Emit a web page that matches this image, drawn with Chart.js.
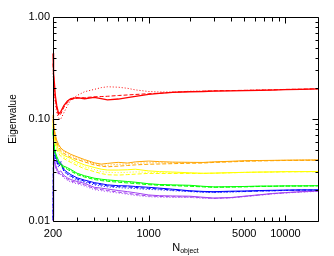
<!DOCTYPE html>
<html>
<head>
<meta charset="utf-8">
<script src="https://cdn.jsdelivr.net/npm/chart.js@4.4.1/dist/chart.umd.min.js"></script>
<style>
html,body{margin:0;padding:0;background:#fff;}
canvas{display:block;}
</style>
</head>
<body>
<canvas id="c" width="334" height="256"></canvas>
<script>
// ---- data ----
const nObject = [200, 201, 203, 205, 208, 213, 220, 228, 240, 255, 270, 300, 340, 400, 450, 500, 600, 700, 800, 1000, 1200, 1500, 2000, 2500, 3000, 4000, 5000, 6500, 8000, 10000, 13000, 17300];

const redSolid   = [0.44, 0.36, 0.28, 0.22, 0.17, 0.135, 0.112, 0.118, 0.135, 0.15, 0.158, 0.162, 0.158, 0.163, 0.158, 0.154, 0.157, 0.162, 0.167, 0.174, 0.178, 0.182, 0.185, 0.186, 0.188, 0.189, 0.19, 0.191, 0.192, 0.194, 0.195, 0.197];
const redDashed  = [0.35, 0.3, 0.24, 0.19, 0.155, 0.125, 0.108, 0.112, 0.13, 0.145, 0.155, 0.16, 0.162, 0.165, 0.166, 0.167, 0.17, 0.172, 0.174, 0.177, 0.179, 0.183, 0.186, 0.187, 0.189, 0.19, 0.191, 0.192, 0.193, 0.195, 0.196, 0.198];
const redDotted  = [0.28, 0.25, 0.21, 0.17, 0.14, 0.115, 0.102, 0.1, 0.115, 0.135, 0.155, 0.17, 0.185, 0.195, 0.203, 0.207, 0.205, 0.2, 0.193, 0.186, 0.184, 0.184, 0.187, 0.188, 0.189, 0.19, 0.191, 0.193, 0.194, 0.195, 0.196, 0.197];

const orangeSolid  = [0.11, 0.1, 0.088, 0.078, 0.07, 0.062, 0.056, 0.052, 0.049, 0.047, 0.045, 0.0426, 0.04, 0.0372, 0.0361, 0.0367, 0.0376, 0.037, 0.038, 0.0387, 0.0382, 0.0378, 0.0376, 0.0375, 0.038, 0.0385, 0.039, 0.0392, 0.0393, 0.0395, 0.0396, 0.0397];
const orangeDashed = [0.1, 0.09, 0.08, 0.072, 0.065, 0.058, 0.053, 0.049, 0.046, 0.044, 0.042, 0.04, 0.038, 0.0355, 0.0345, 0.034, 0.0345, 0.035, 0.0355, 0.036, 0.0362, 0.0365, 0.0368, 0.037, 0.0375, 0.038, 0.0385, 0.0388, 0.039, 0.0392, 0.0393, 0.0394];
const orangeDotted = [0.105, 0.095, 0.084, 0.075, 0.067, 0.06, 0.055, 0.051, 0.048, 0.046, 0.0435, 0.041, 0.039, 0.0365, 0.0352, 0.0352, 0.036, 0.0362, 0.0368, 0.0372, 0.0372, 0.0372, 0.0372, 0.0374, 0.0378, 0.0383, 0.0387, 0.039, 0.0392, 0.0393, 0.0395, 0.0396];

const yellowSolid  = [0.095, 0.085, 0.075, 0.066, 0.06, 0.055, 0.05, 0.047, 0.044, 0.0425, 0.041, 0.038, 0.0355, 0.0335, 0.0322, 0.0316, 0.0316, 0.0318, 0.0322, 0.031, 0.0305, 0.0302, 0.0297, 0.0294, 0.0295, 0.0298, 0.03, 0.0302, 0.0303, 0.0305, 0.0305, 0.0306];
const yellowDashed = [0.088, 0.078, 0.07, 0.062, 0.056, 0.051, 0.046, 0.043, 0.041, 0.039, 0.0375, 0.035, 0.0325, 0.0305, 0.0292, 0.0284, 0.0282, 0.0285, 0.0288, 0.0293, 0.0292, 0.0292, 0.0292, 0.0292, 0.0294, 0.0297, 0.0299, 0.0301, 0.0302, 0.0303, 0.0304, 0.0304];
const yellowDotted = [0.09, 0.082, 0.072, 0.064, 0.058, 0.053, 0.048, 0.045, 0.0425, 0.0405, 0.039, 0.0365, 0.034, 0.032, 0.0305, 0.03, 0.0298, 0.03, 0.0303, 0.03, 0.0298, 0.0296, 0.0294, 0.0293, 0.0294, 0.0297, 0.03, 0.0301, 0.0302, 0.0304, 0.0304, 0.0305];

const greenSolid  = [0.08, 0.07, 0.06, 0.052, 0.047, 0.043, 0.039, 0.036, 0.0345, 0.0333, 0.032, 0.0294, 0.0278, 0.0263, 0.0257, 0.0253, 0.0248, 0.0244, 0.024, 0.0232, 0.0228, 0.0226, 0.0224, 0.0219, 0.0216, 0.0217, 0.0218, 0.022, 0.022, 0.0221, 0.0221, 0.0222];
const greenDashed = [0.075, 0.066, 0.057, 0.05, 0.045, 0.041, 0.0375, 0.0348, 0.0333, 0.032, 0.0308, 0.0285, 0.027, 0.0255, 0.0249, 0.0245, 0.024, 0.0236, 0.0233, 0.0227, 0.0224, 0.0222, 0.0219, 0.0216, 0.0214, 0.0215, 0.0216, 0.0218, 0.0219, 0.022, 0.022, 0.0221];
const greenDotted = [0.077, 0.068, 0.058, 0.051, 0.046, 0.042, 0.038, 0.0354, 0.0338, 0.0326, 0.0314, 0.029, 0.0274, 0.0259, 0.0253, 0.0249, 0.0244, 0.024, 0.0237, 0.023, 0.0226, 0.0224, 0.0221, 0.0217, 0.0215, 0.0216, 0.0217, 0.0219, 0.0219, 0.022, 0.0221, 0.0221];

const blueSolid  = [0.011, 0.04, 0.058, 0.05, 0.044, 0.04, 0.036, 0.037, 0.032, 0.03, 0.0285, 0.0265, 0.0252, 0.0238, 0.0232, 0.0226, 0.0222, 0.0221, 0.0218, 0.0214, 0.021, 0.0205, 0.0198, 0.0195, 0.0194, 0.0196, 0.0197, 0.0199, 0.02, 0.0201, 0.0202, 0.0202];
const blueDashed = [0.0105, 0.035, 0.052, 0.047, 0.042, 0.038, 0.0345, 0.036, 0.031, 0.029, 0.0276, 0.0258, 0.0246, 0.0232, 0.0226, 0.0221, 0.0217, 0.0216, 0.0213, 0.0209, 0.0206, 0.0201, 0.0196, 0.0193, 0.0192, 0.0194, 0.0195, 0.0197, 0.0198, 0.02, 0.0201, 0.0201];
const blueDotted = [0.0102, 0.03, 0.048, 0.045, 0.04, 0.037, 0.0335, 0.039, 0.0305, 0.0285, 0.027, 0.0252, 0.024, 0.0226, 0.022, 0.0216, 0.0212, 0.021, 0.0208, 0.0204, 0.0202, 0.0198, 0.0194, 0.0191, 0.019, 0.0192, 0.0194, 0.0196, 0.0197, 0.0199, 0.02, 0.02];

const purpleSolid  = [0.0101, 0.03, 0.045, 0.04, 0.036, 0.033, 0.03, 0.031, 0.028, 0.0265, 0.0255, 0.0244, 0.0234, 0.0214, 0.021, 0.0206, 0.0199, 0.0194, 0.0189, 0.018, 0.0177, 0.0176, 0.0175, 0.0171, 0.0168, 0.017, 0.0175, 0.0181, 0.0186, 0.019, 0.0194, 0.0197];
const purpleDashed = [0.0101, 0.027, 0.042, 0.038, 0.0345, 0.0318, 0.029, 0.0295, 0.027, 0.0257, 0.0247, 0.0237, 0.0226, 0.0208, 0.0203, 0.0199, 0.0192, 0.0187, 0.0182, 0.0176, 0.0174, 0.0173, 0.0172, 0.0169, 0.0167, 0.0169, 0.0174, 0.018, 0.0185, 0.0189, 0.0193, 0.0196];
const purpleDotted = [0.0101, 0.025, 0.04, 0.037, 0.0335, 0.031, 0.0285, 0.0285, 0.0265, 0.025, 0.024, 0.0232, 0.022, 0.0203, 0.0198, 0.0194, 0.0188, 0.0183, 0.0178, 0.0173, 0.0171, 0.017, 0.017, 0.0167, 0.0166, 0.0168, 0.0173, 0.0179, 0.0184, 0.0188, 0.0192, 0.0195];

const xTickLabels = [200, 1000, 5000, 10000];
const yTickLabels = [0.01, 0.10, 1.00];
const xMajorTicks = [1000, 10000];
const xMinorTicks = [300, 400, 500, 600, 700, 800, 900, 2000, 3000, 4000, 5000, 6000, 7000, 8000, 9000];
const yMajorTicks = [0.01, 0.1, 1];
const yMinorTicks = [0.02, 0.03, 0.04, 0.05, 0.06, 0.07, 0.08, 0.09, 0.2, 0.3, 0.4, 0.5, 0.6, 0.7, 0.8, 0.9];

const xTitle = 'N';
const xTitleSub = 'object';
const yTitle = 'Eigenvalue';

// ---- build ----
const COLORS = {red:'#ff0000', orange:'#ffa500', yellow:'#ffff00', green:'#00ff00', blue:'#0000ff', purple:'#a040f0'};
const DASH = {solid:[], dashed:[4,2], dotted:[1,2]};
const series = [
  ['purple','solid',purpleSolid],['purple','dashed',purpleDashed],['purple','dotted',purpleDotted],
  ['blue','solid',blueSolid],['blue','dashed',blueDashed],['blue','dotted',blueDotted],
  ['green','solid',greenSolid],['green','dashed',greenDashed],['green','dotted',greenDotted],
  ['yellow','solid',yellowSolid],['yellow','dashed',yellowDashed],['yellow','dotted',yellowDotted],
  ['orange','solid',orangeSolid],['orange','dashed',orangeDashed],['orange','dotted',orangeDotted],
  ['red','solid',redSolid],['red','dashed',redDashed],['red','dotted',redDotted]
];
const datasets = series.map(([c, s, vals], i) => ({
  label: c + ' ' + s,
  data: nObject.map((n, k) => ({x: n, y: vals[k]})),
  borderColor: COLORS[c],
  borderWidth: c === 'red' && s === 'solid' ? 1.3 : 1,
  borderDash: DASH[s],
  pointRadius: 0,
  tension: 0,
  fill: false,
  clip: {left: 2, top: 0, right: 0, bottom: 0},
  order: series.length - i
}));

const FONT = '"Liberation Sans", Arial, Helvetica, sans-serif';

const framePlugin = {
  id: 'frame',
  afterDraw(chart) {
    const {ctx, chartArea: a, scales: {x, y}} = chart;
    ctx.save();
    ctx.strokeStyle = '#000';
    ctx.lineWidth = 1;
    const L = Math.round(a.left) + 0.5, R = Math.round(a.right) + 0.5;
    const T = Math.round(a.top) + 0.5, B = Math.round(a.bottom) + 0.5;
    ctx.beginPath();
    ctx.rect(L, T, R - L, B - T);
    const xt = (v, len) => { const p = Math.round(x.getPixelForValue(v)) + 0.5; ctx.moveTo(p, B); ctx.lineTo(p, B - len); ctx.moveTo(p, T); ctx.lineTo(p, T + len); };
    xMajorTicks.forEach(v => xt(v, 6));
    xMinorTicks.forEach(v => xt(v, 4));
    const yt = (v, len) => { const p = Math.round(y.getPixelForValue(v)) + 0.5; ctx.moveTo(L, p); ctx.lineTo(L + len, p); ctx.moveTo(R, p); ctx.lineTo(R - len, p); };
    yMajorTicks.forEach(v => yt(v, 6));
    yMinorTicks.forEach(v => yt(v, 3));
    ctx.stroke();
    ctx.fillStyle = '#000';
    ctx.font = '10px ' + FONT;
    ctx.textAlign = 'center';
    ctx.textBaseline = 'middle';
    ctx.translate(13, (a.top + a.bottom) / 2);
    ctx.rotate(-Math.PI / 2);
    ctx.fillText(yTitle, 0, 0);
    ctx.setTransform(1, 0, 0, 1, 0, 0);
    ctx.textAlign = 'left';
    ctx.textBaseline = 'alphabetic';
    ctx.font = '11px ' + FONT;
    const wN = ctx.measureText(xTitle).width;
    ctx.font = '7px ' + FONT;
    const wS = ctx.measureText(xTitleSub).width;
    const cx = (a.left + a.right) / 2;
    const x0 = cx - (wN + wS) / 2;
    ctx.font = '11px ' + FONT;
    ctx.fillText(xTitle, x0, 251);
    ctx.font = '7px ' + FONT;
    ctx.fillText(xTitleSub, x0 + wN, 253);
    ctx.restore();
  }
};

new Chart(document.getElementById('c'), {
  type: 'line',
  data: {datasets},
  options: {
    responsive: false,
    animation: false,
    events: [],
    layout: {padding: {left: 0, top: 17, right: 16, bottom: 0}},
    plugins: {legend: {display: false}, tooltip: {enabled: false}},
    scales: {
      x: {
        type: 'logarithmic', min: 200, max: 17300,
        afterBuildTicks: s => { s.ticks = xTickLabels.map(v => ({value: v})); },
        afterFit: s => { s.height = 35; },
        ticks: {color: '#000', font: {family: FONT, size: 11}, padding: 6, maxRotation: 0, autoSkip: false,
          callback: v => String(v)},
        grid: {display: false, drawTicks: false},
        border: {display: false}
      },
      y: {
        type: 'logarithmic', min: 0.01, max: 1,
        afterBuildTicks: s => { s.ticks = yTickLabels.map(v => ({value: v})); },
        afterFit: s => { s.width = 53; },
        ticks: {color: '#000', font: {family: FONT, size: 11}, padding: 3, autoSkip: false,
          callback: v => Number(v).toFixed(2)},
        grid: {display: false, drawTicks: false},
        border: {display: false}
      }
    }
  },
  plugins: [framePlugin]
});
</script>
</body>
</html>
